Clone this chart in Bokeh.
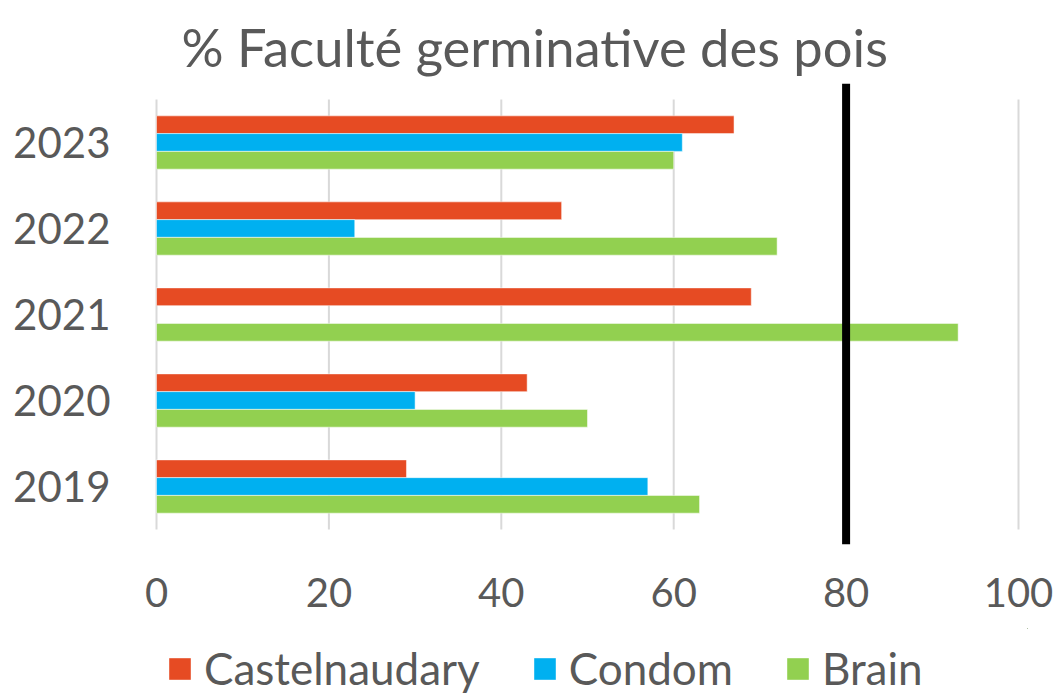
from bokeh.plotting import figure
from bokeh.layouts import column
from bokeh.models import (Range1d, Span, FixedTicker, Legend, LegendItem, ColumnDataSource)
from bokeh.embed import file_html
from bokeh.resources import INLINE

# ---- data ----
years = ["2019", "2020", "2021", "2022", "2023"]
castelnaudary = [29, 43, 69, 47, 67]
condom = [57, 30, None, 23, 61]
brain = [63, 50, 93, 72, 60]
series_names = ["Castelnaudary", "Condom", "Brain"]
x_ticks = [0, 20, 40, 60, 80, 100]
threshold = 80

colors = ["#E64B23", "#00B0F0", "#92D050"]
FONT = "Lato"
TXT = "#595959"

W, H_MAIN, H_LEG = 1056, 628, 67
p = figure(width=W, height=H_MAIN, output_backend="svg", toolbar_location=None,
           x_range=Range1d(-1.044, 101.044), y_range=Range1d(-0.674, 4.686),
           min_border_left=147, min_border_right=W - 1027, min_border_top=83,
           min_border_bottom=H_MAIN - 544)
p.outline_line_color = None
p.xgrid.visible = False
p.ygrid.visible = False

# vertical grid lines (limited to category band)
p.segment(x0=x_ticks, y0=[-0.5] * len(x_ticks), x1=x_ticks, y1=[4.5] * len(x_ticks),
          line_color="#D9D9D9", line_width=2)

bh = 0.2065
offsets = [bh, 0.0, -bh]
sources = []
for vals, off, col in zip([castelnaudary, condom, brain], offsets, colors):
    ys = [i + off for i, v in enumerate(vals) if v is not None]
    xs = [v for v in vals if v is not None]
    src = ColumnDataSource(dict(y=ys, right=xs))
    sources.append(src)
    p.hbar(y="y", left=0, right="right", height=bh, source=src,
           fill_color=col, line_color="white", line_width=1, line_alpha=0.5)

p.add_layout(Span(location=threshold, dimension="height", line_color="black", line_width=8))

# axes
p.xaxis.ticker = FixedTicker(ticks=x_ticks)
p.xaxis.axis_line_color = None
p.xaxis.major_tick_line_color = None
p.xaxis.minor_tick_line_color = None
p.xaxis.major_tick_out = 0
p.xaxis.major_label_standoff = 33
p.xaxis.major_label_text_font = FONT
p.xaxis.major_label_text_font_size = "40px"
p.xaxis.major_label_text_color = TXT

p.yaxis.ticker = FixedTicker(ticks=list(range(len(years))))
p.yaxis.major_label_overrides = {i: y for i, y in enumerate(years)}
p.yaxis.axis_line_color = None
p.yaxis.major_tick_line_color = None
p.yaxis.minor_tick_line_color = None
p.yaxis.major_tick_out = 0
p.yaxis.major_label_standoff = 37
p.yaxis.major_label_text_font = FONT
p.yaxis.major_label_text_font_size = "42px"
p.yaxis.major_label_text_color = TXT

# title
p.title.text = "% Faculté germinative des pois"
p.title.text_font = FONT
p.title.text_font_size = "52.5px"
p.title.text_font_style = "normal"
p.title.text_color = TXT
p.title.align = "left"
p.title.offset = 34
p.title.standoff = 12

# legend strip below the chart (renderers kept out of view; only legend shows)
lg = figure(width=W, height=H_LEG, output_backend="svg", toolbar_location=None,
            title=None, x_axis_location=None, y_axis_location=None, min_border=0,
            x_range=Range1d(-10, -9), y_range=Range1d(-10, -9))
lg.outline_line_color = None
lg.xgrid.visible = False
lg.ygrid.visible = False
leg_renderers = []
for src, col in zip(sources, colors):
    r = lg.hbar(y="y", left=0, right="right", height=bh, source=src,
                fill_color=col, line_color=None)
    leg_renderers.append(r)

legend = Legend(items=[LegendItem(label=n, renderers=[r]) for n, r in zip(series_names, leg_renderers)],
                orientation="horizontal", location=(19, 1),
                glyph_width=27, glyph_height=27, label_height=27, label_standoff=11, spacing=51,
                label_text_font=FONT, label_text_font_size="44px", label_text_color=TXT,
                border_line_color=None, background_fill_alpha=0, padding=0, margin=0)
lg.add_layout(legend, "center")

layout = column(p, lg, spacing=0)
open("out.html", "w").write(file_html(layout, INLINE))
